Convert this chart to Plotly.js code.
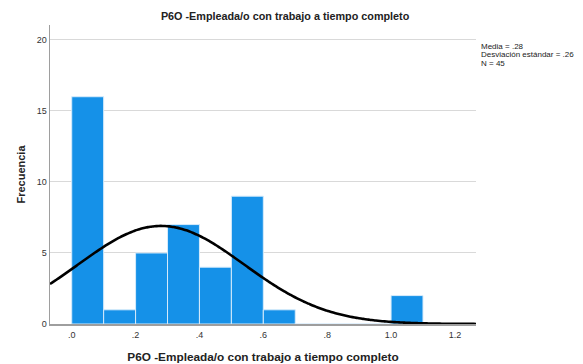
<!DOCTYPE html>
<html>
<head>
<meta charset="utf-8">
<script src="https://cdn.plot.ly/plotly-3.0.1.min.js"></script>
<style>html,body{margin:0;padding:0;background:#fff;}#chart{width:583px;height:364px;}</style>
</head>
<body>
<div id="chart"></div>
<script>
// Histogram bins (left edges) and frequencies
const binStarts = [0.0, 0.1, 0.2, 0.3, 0.4, 0.5, 0.6, 0.7, 0.8, 0.9, 1.0];
const counts    = [16, 1, 5, 7, 4, 9, 1, 0, 0, 0, 2];
const binWidth = 0.1;

// Summary statistics shown in the chart
const mean = 0.28;
const sd = 0.26;
const n = 45;
const statsLines = ['Media = .28', 'Desviación estándar = .26', 'N = 45'];

// Tick labels
const xTickVals = [0, 0.2, 0.4, 0.6, 0.8, 1.0, 1.2];
const xTickText = ['.0', '.2', '.4', '.6', '.8', '1.0', '1.2'];
const yTickVals = [0, 5, 10, 15, 20];

const titleText = 'P6O -Empleada/o con trabajo a tiempo completo';

// Fitted normal curve (scaled to counts)
const xMin = -0.068, xMax = 1.266;
const curveX = [], curveY = [];
for (let i = 0; i <= 200; i++) {
  const x = xMin + (xMax - xMin) * i / 200;
  const z = (x - mean) / sd;
  curveX.push(x);
  curveY.push(n * binWidth / (sd * Math.sqrt(2 * Math.PI)) * Math.exp(-0.5 * z * z));
}

const traces = [
  {
    type: 'bar',
    x: binStarts,
    y: counts,
    width: binWidth,
    offset: 0,
    marker: { color: '#1591e8', line: { color: '#d6ebfb', width: 1 } },
    hoverinfo: 'x+y'
  },
  {
    type: 'scatter',
    mode: 'lines',
    x: curveX,
    y: curveY,
    line: { color: '#000000', width: 2.6, shape: 'spline' },
    hoverinfo: 'skip'
  }
];

const annotations = statsLines.map((t, i) => ({
  xref: 'paper', yref: 'paper', x: 1.008, y: 0.95 - i * 0.0285,
  xanchor: 'left', yanchor: 'top', align: 'left', showarrow: false,
  text: t, font: { size: 8, color: '#222' }
}));

const layout = {
  width: 583,
  height: 364,
  margin: { l: 50, r: 107, t: 25, b: 40 },
  paper_bgcolor: '#ffffff',
  plot_bgcolor: '#ffffff',
  showlegend: false,
  bargap: 0,
  font: { family: 'Liberation Sans, Arial, sans-serif', color: '#222' },
  title: {
    text: '<b>' + titleText + '</b>',
    font: { size: 10.8, color: '#222' },
    x: 0.489, xref: 'container', xanchor: 'center',
    y: 0.956, yanchor: 'middle', yref: 'container'
  },
  xaxis: {
    range: [xMin, xMax],
    tickvals: xTickVals,
    ticktext: xTickText,
    tickfont: { size: 9, color: '#333' },
    showgrid: false,
    zeroline: false,
    showline: true,
    linecolor: '#9e9e9e',
    linewidth: 1.5,
    ticks: '',
    ticklabelstandoff: 2,
    title: { text: '<b>' + titleText + '</b>', font: { size: 11.8, color: '#222' }, standoff: 13 }
  },
  yaxis: {
    range: [0, 21.05],
    tickvals: yTickVals,
    tickfont: { size: 9, color: '#333' },
    showgrid: true,
    gridcolor: '#d9d9d9',
    gridwidth: 1,
    zeroline: false,
    showline: true,
    linecolor: '#9e9e9e',
    linewidth: 1.5,
    ticks: '',
    title: { text: '<b>Frecuencia</b>', font: { size: 11, color: '#222' }, standoff: 9 }
  },
  annotations: annotations
};

Plotly.newPlot('chart', traces, layout, { displayModeBar: false, staticPlot: true });
</script>
</body>
</html>
